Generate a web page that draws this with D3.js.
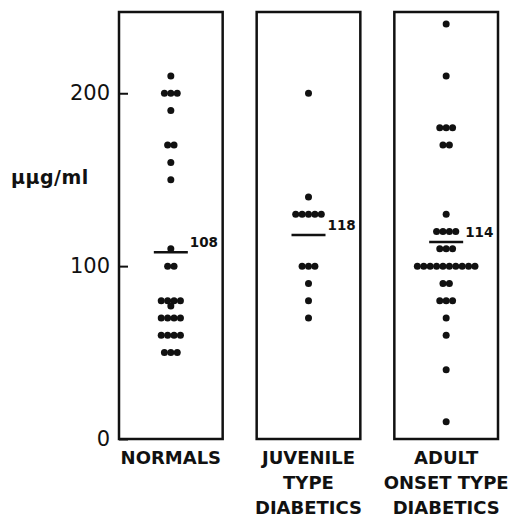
<!DOCTYPE html>
<html>
<head>
<meta charset="utf-8">
<script src="https://cdn.jsdelivr.net/npm/d3@7"></script>
<style>
  body { margin: 0; background: #fff; }
  text { font-family: "DejaVu Sans", sans-serif; fill: #111; }
</style>
</head>
<body>
<svg id="chart" width="525" height="519"></svg>
<script>
// groups shown as panels
var groups = ["normals", "juvenile", "adult"];
var groupLabels = [
  ["NORMALS"],
  ["JUVENILE", "TYPE", "DIABETICS"],
  ["ADULT", "ONSET TYPE", "DIABETICS"]
];

// individual values, uug/ml
var normals = [210, 200, 200, 200, 190, 170, 170, 160, 150, 110, 100, 100,
  80, 80, 80, 80, 77, 70, 70, 70, 70, 60, 60, 60, 60, 50, 50, 50];
var juvenile = [200, 140, 130, 130, 130, 130, 130, 100, 100, 100, 90, 80, 70];
var adult = [240, 210, 180, 180, 180, 170, 170, 130, 120, 120, 120, 120,
  110, 110, 110, 100, 100, 100, 100, 100, 100, 100, 100, 100, 100,
  90, 90, 80, 80, 80, 70, 60, 40, 10];

var means = [108, 118, 114];
var yTicks = [0, 100, 200];
var yLabel = "\u03bc\u03bcg/ml";

var svg = d3.select("#chart");

// scales
var x = d3.scaleBand()
  .domain(groups)
  .range([119, 498])
  .paddingInner(0.247)
  .paddingOuter(0);

var y = d3.scaleLinear()
  .domain([0, 247])
  .range([439, 12]);

var dotR = 3.5;
var dotStep = 6.4;

var values = [normals, juvenile, adult];

groups.forEach(function (g, i) {

  var x0 = x(g);
  var cx = x0 + x.bandwidth() / 2;

  // panel frame
  svg.append("rect")
    .attr("x", x0)
    .attr("y", y.range()[1])
    .attr("width", x.bandwidth())
    .attr("height", y.range()[0] - y.range()[1])
    .attr("fill", "none")
    .attr("stroke", "#111")
    .attr("stroke-width", 2.5);

  // rows of dots, equal values side by side
  var rows = d3.rollups(values[i], function (v) { return v.length; }, function (d) { return d; });
  rows.forEach(function (r) {
    var n = r[1];
    for (var k = 0; k < n; k += 1) {
      svg.append("circle")
        .attr("cx", cx + (k - (n - 1) / 2) * dotStep)
        .attr("cy", y(r[0]))
        .attr("r", dotR)
        .attr("fill", "#111");
    }
  });

  // mean line + label
  svg.append("line")
    .attr("x1", cx - 17)
    .attr("x2", cx + 17)
    .attr("y1", y(means[i]))
    .attr("y2", y(means[i]))
    .attr("stroke", "#111")
    .attr("stroke-width", 2.5);

  svg.append("text")
    .attr("x", cx + 19)
    .attr("y", y(means[i]) - 5)
    .attr("font-size", "13.5px")
    .attr("font-weight", "bold")
    .text(means[i]);

  // category label
  groupLabels[i].forEach(function (line, j) {
    svg.append("text")
      .attr("x", cx)
      .attr("y", 464 + j * 25)
      .attr("text-anchor", "middle")
      .attr("font-size", "18px")
      .attr("font-weight", "bold")
      .text(line);
  });
});

// y axis: ticks sit inside the first panel
var axis = d3.axisLeft(y)
  .tickValues(yTicks)
  .tickSizeInner(-9)
  .tickSizeOuter(0)
  .tickPadding(9);

var ax = svg.append("g")
  .attr("transform", "translate(" + x(groups[0]) + ",0)")
  .call(axis);

ax.select(".domain").remove();
ax.selectAll(".tick line").attr("stroke", "#111").attr("stroke-width", 2);
ax.selectAll(".tick text")
  .attr("font-size", "21px")
  .attr("font-family", "DejaVu Sans")
  .attr("fill", "#111");

svg.append("text")
  .attr("x", 11)
  .attr("y", 184)
  .attr("font-size", "19px")
  .attr("font-weight", "bold")
  .attr("letter-spacing", "0.5px")
  .text(yLabel);
</script>
</body>
</html>
